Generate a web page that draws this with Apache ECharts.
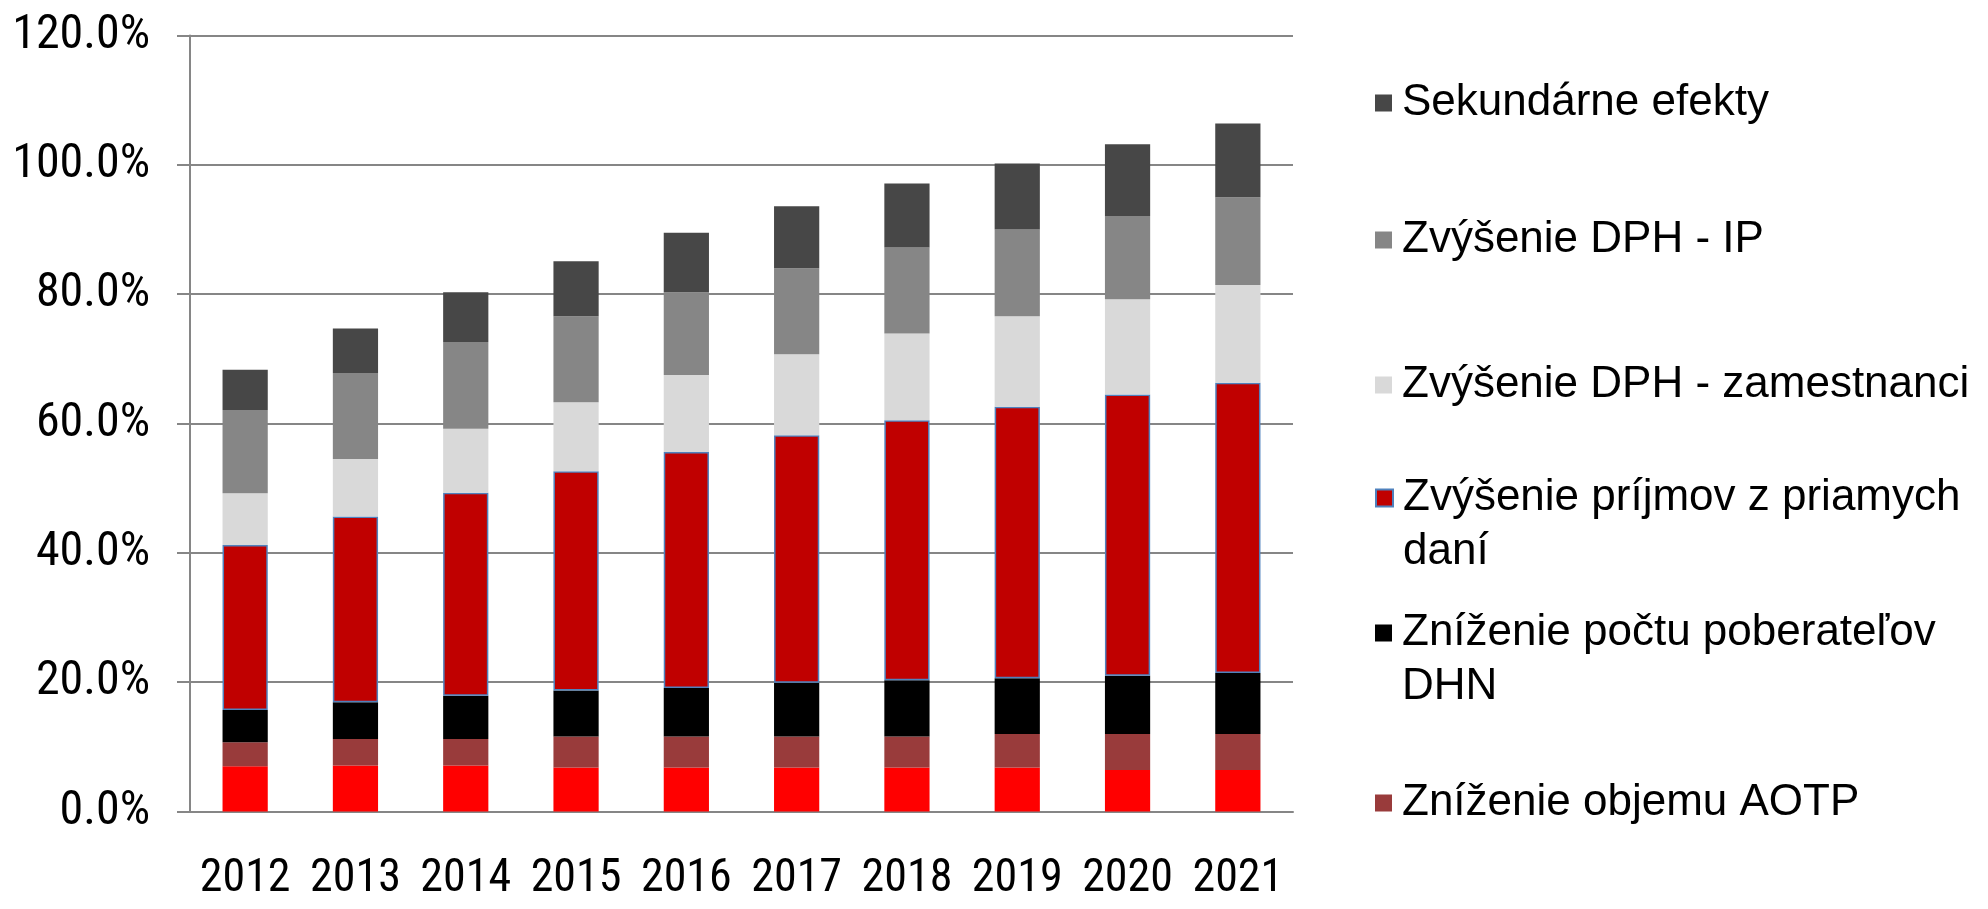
<!DOCTYPE html>
<html>
<head>
<meta charset="utf-8">
<title>Stacked bars</title>
<script src="https://cdn.jsdelivr.net/npm/echarts@6/dist/echarts.min.js"></script>
<style>
  html, body { margin: 0; padding: 0; background: #fff; }
  #chart { width: 1988px; height: 909px; }
</style>
</head>
<body>
<div id="chart"></div>
<script>
// roky
var years = ["2012", "2013", "2014", "2015", "2016", "2017", "2018", "2019", "2020", "2021"]

// hodnoty v % (odspodu nahor)
var ostatne = [7.0, 7.1, 7.1, 6.8, 6.8, 6.8, 6.8, 6.8, 6.4, 6.4]
var objemAotp = [3.7, 4.1, 4.1, 4.8, 4.8, 4.8, 4.8, 5.2, 5.6, 5.6]
var poberateliaDhn = [5.0, 5.7, 6.7, 7.1, 7.5, 8.3, 8.7, 8.6, 9.0, 9.4]
var priameDane = [25.5, 28.7, 31.4, 33.9, 36.5, 38.3, 40.2, 42.0, 43.5, 44.9]
var dphZamestnanci = [8.0, 8.9, 9.9, 10.7, 11.9, 12.5, 13.4, 14.0, 14.7, 15.1]
var dphIp = [12.9, 13.3, 13.4, 13.3, 12.8, 13.3, 13.3, 13.4, 12.9, 13.6]
var sekundarne = [6.2, 6.9, 7.7, 8.5, 9.2, 9.6, 9.9, 10.2, 11.1, 11.4]

var yTicks = [0, 20, 40, 60, 80, 100, 120]

var names = [
  "Sekundárne efekty",
  "Zvýšenie DPH - IP",
  "Zvýšenie DPH - zamestnanci",
  "Zvýšenie príjmov z priamych\ndaní",
  "Zníženie počtu poberateľov\nDHN",
  "Zníženie objemu AOTP"
]

var axisFont = "'Roboto Condensed', 'Liberation Sans', sans-serif"
var legendFont = "'Liberation Sans', Arial, sans-serif"

function bar(name, data, color, border) {
  return {
    name: name,
    type: "bar",
    stack: "spolu",
    barWidth: "41%",
    data: data,
    itemStyle: {
      color: color,
      borderColor: border || color,
      borderWidth: border ? 1.5 : 0
    },
    emphasis: { disabled: true }
  }
}

// legenda - jedna polozka na komponent, aby sedeli riadky
// (pri dvojriadkovych polozkach prazdny riadok navrchu, aby stvorcek sedel na prvom riadku)
var legendTops = [76, 213, 358, 471, 606, 776]
var legends = names.map(function (n, i) {
  var twoLines = n.indexOf("\n") >= 0
  return {
    orient: "vertical",
    left: 1375,
    top: legendTops[i] - (twoLines ? 54 : 0),
    padding: 0,
    itemWidth: 17,
    itemHeight: 17,
    icon: "rect",
    selectedMode: false,
    data: [n],
    formatter: function (t) { return twoLines ? "\n" + t : t },
    textStyle: {
      fontFamily: legendFont,
      fontSize: 44,
      lineHeight: 54,
      color: "#000",
      padding: [0, 0, 0, 5]
    }
  }
})

var option = {
  backgroundColor: "#fff",
  animation: false,
  legend: legends,
  grid: {
    left: 190,
    right: 695,
    top: 35.5,
    bottom: 97.5,
    containLabel: false
  },
  xAxis: {
    type: "category",
    data: years,
    boundaryGap: true,
    axisLine: { lineStyle: { color: "#868686", width: 2 } },
    axisTick: { length: 17, lineStyle: { color: "#868686", width: 2 } },
    axisLabel: {
      interval: 0,
      margin: 45,
      fontFamily: axisFont,
      fontSize: 46,
      color: "#000"
    }
  },
  yAxis: {
    type: "value",
    min: yTicks[0],
    max: yTicks[yTicks.length - 1],
    interval: 20,
    axisLine: { show: true, lineStyle: { color: "#868686", width: 2 } },
    axisTick: { show: true, length: 13, lineStyle: { color: "#868686", width: 2 } },
    splitLine: { lineStyle: { color: "#868686", width: 2 } },
    axisLabel: {
      margin: 40,
      fontFamily: axisFont,
      fontSize: 48,
      color: "#000",
      formatter: function (v) { return v.toFixed(1) + "%" }
    }
  },
  series: [
    bar("Ostatné", ostatne, "#FF0000"),
    bar(names[5], objemAotp, "#993B3B"),
    bar(names[4], poberateliaDhn, "#000000"),
    bar(names[3], priameDane, "#C00000", "#4F81BD"),
    bar(names[2], dphZamestnanci, "#D9D9D9"),
    bar(names[1], dphIp, "#868686"),
    bar(names[0], sekundarne, "#474747")
  ]
}

var chartDom = echarts.init(document.getElementById("chart"))
chartDom.setOption(option)
</script>
</body>
</html>
